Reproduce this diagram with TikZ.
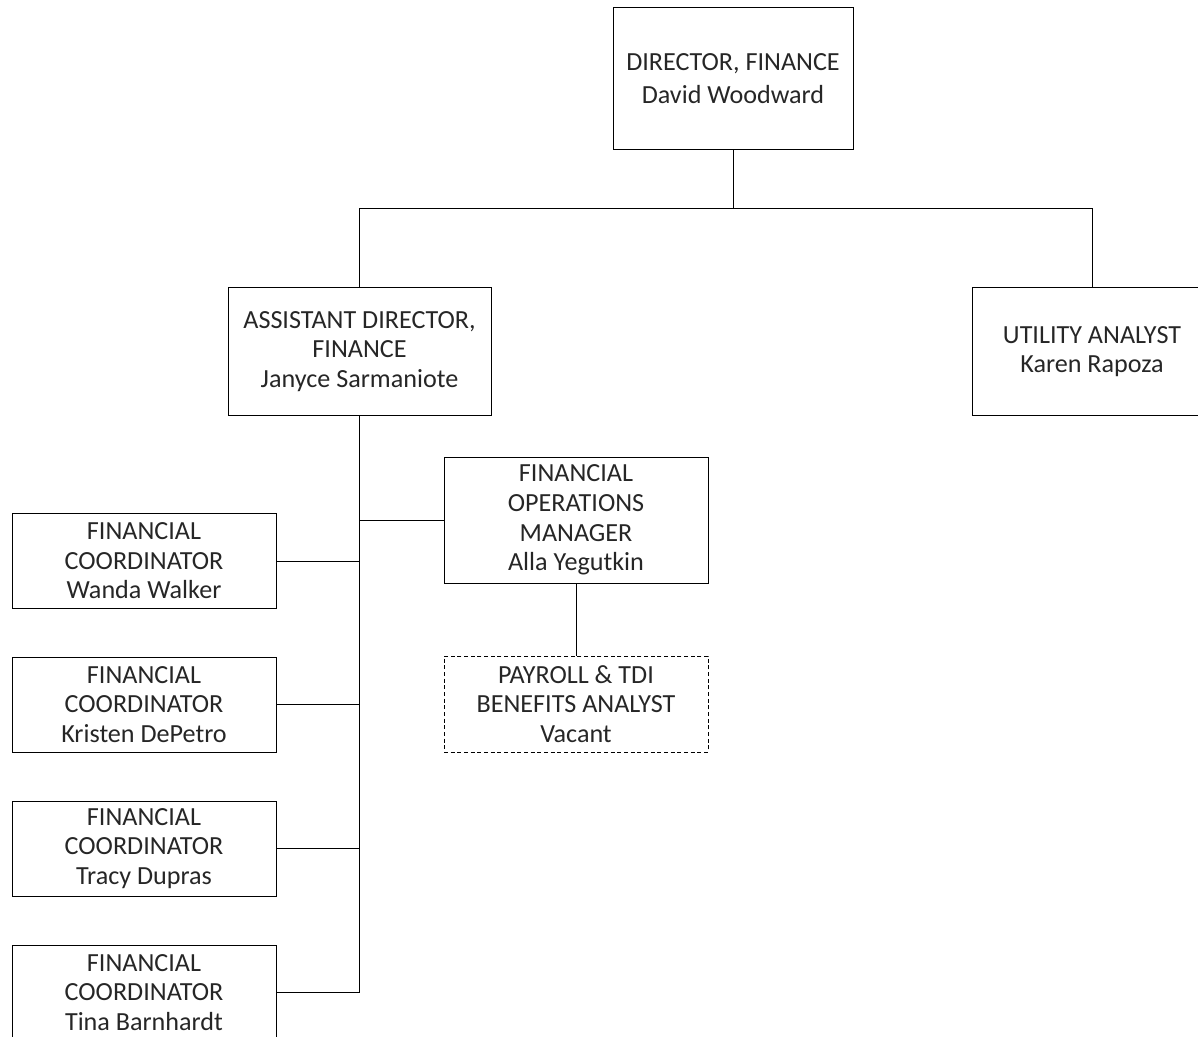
\documentclass[tikz,border=0pt]{standalone}
\usepackage{fontspec}
\setmainfont{Carlito}
\usetikzlibrary{positioning, calc}

\begin{document}
\begin{tikzpicture}[x=0.75pt, y=-0.75pt, line width=0.75pt, font=\fontsize{19.6}{22.2}\selectfont]
        % Define block styles
        \tikzstyle{post} = [rectangle, draw, text=black!85, align=center, inner sep=0pt, minimum width=198pt, minimum height=71.25pt]
        \tikzstyle{trunk} = [line width=1.4pt]

        \clip (0,0) rectangle (1198,1037);
        \useasboundingbox (0,0) rectangle (1198,1037);

        % Place nodes
        \node [post, minimum width=180pt, minimum height=106.5pt] (director) at (733,79) {DIRECTOR, FINANCE\\[2.5pt]David Woodward};
        \node [post, minimum width=197.25pt, minimum height=95.25pt] (assistant) at (359.5,351.5) {ASSISTANT DIRECTOR,\\FINANCE\\Janyce Sarmaniote};
        \node [post, minimum width=180pt, minimum height=95.25pt] (utility) at (1092,351.5) {UTILITY ANALYST\\Karen Rapoza};
        \node [post, minimum height=94.5pt] (operations) at (576,520) {FINANCIAL\\OPERATIONS\\MANAGER\\Alla Yegutkin};
        \node [post, dashed, dash pattern=on 3pt off 2pt, minimum height=72pt] (payroll) at (576,704) {PAYROLL \& TDI\\BENEFITS ANALYST\\Vacant};
        \node [post] (coordinator_a) at (144,561) {FINANCIAL\\COORDINATOR\\Wanda Walker};
        \node [post] (coordinator_b) at (144,704.5) {FINANCIAL\\COORDINATOR\\Kristen DePetro};
        \node [post] (coordinator_c) at (144,848.5) {FINANCIAL\\COORDINATOR\\Tracy Dupras};
        \node [post] (coordinator_d) at (144,992.5) {FINANCIAL\\COORDINATOR\\Tina Barnhardt};

        % Draw connections
        \draw (director.south) -- ++(0,58) coordinate (split);
        \draw (split) -| (assistant.north);
        \draw (split) -| (utility.north);
        \draw [trunk] (assistant.south) -- (assistant.south |- coordinator_d.east);
        \draw (coordinator_d.east) -- (coordinator_d.east -| assistant.south);
        \draw (coordinator_a.east) -- (coordinator_a.east -| assistant.south);
        \draw (coordinator_b.east) -- (coordinator_b.east -| assistant.south);
        \draw (coordinator_c.east) -- (coordinator_c.east -| assistant.south);
        \draw (operations.west) -- (operations.west -| assistant.south);
        \draw (operations.south) -- (payroll.north);
    \end{tikzpicture}
\end{document}
